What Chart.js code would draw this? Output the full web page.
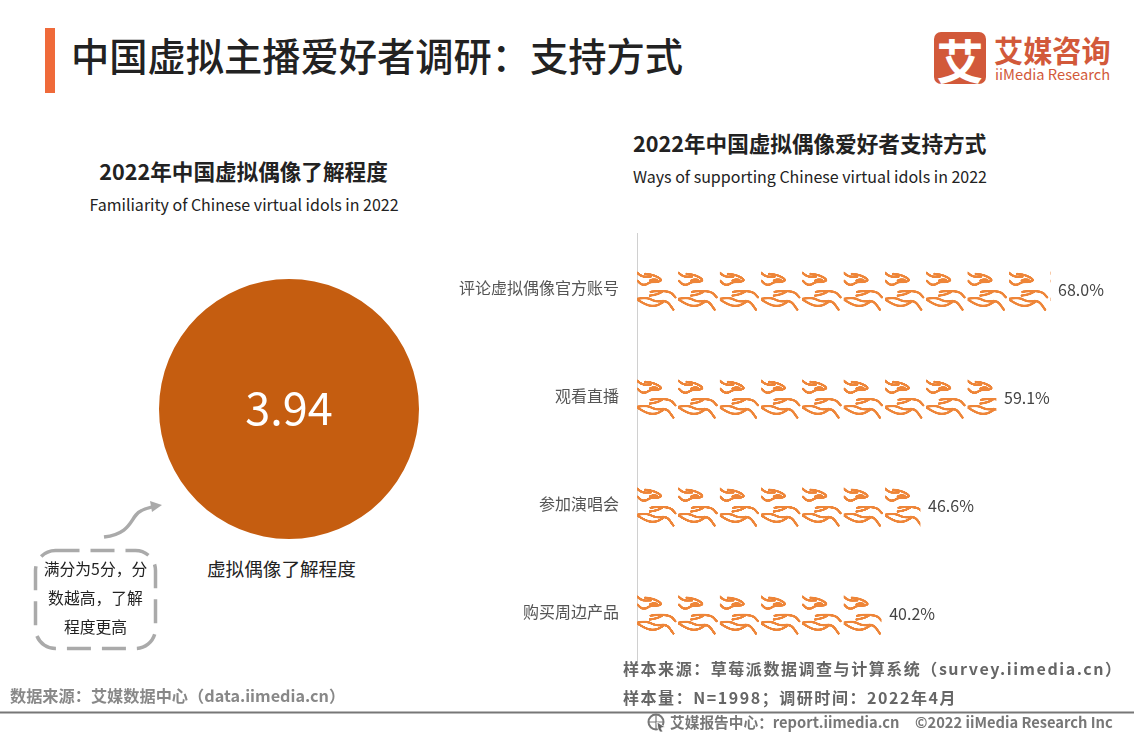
<!DOCTYPE html>
<html>
<head>
<meta charset="utf-8">
<script src="https://cdn.jsdelivr.net/npm/chart.js@4"></script>
<style>
  html, body { margin: 0; padding: 0; background: #fff; }
  #page { position: relative; width: 1134px; height: 737px; overflow: hidden; font-family: "Noto Sans CJK SC", sans-serif; }
  #page canvas { position: absolute; }
  .t { position: absolute; white-space: nowrap; line-height: 1; }
  .c { transform: translateX(-50%); text-align: center; }
</style>
</head>
<body>
<div id="page">
  <div style="position:absolute;left:45px;top:28px;width:10px;height:65px;background:#ef6a3a"></div>
  <div class="t" style="left:71px;top:36px;font-size:38.25px;font-weight:500;color:#222">中国虚拟主播爱好者调研：支持方式</div>

  <div style="position:absolute;left:934px;top:32px;width:52px;height:52px;border-radius:7px;background:#d2593a"></div>
  <div class="t" style="left:936px;top:35px;width:48px;text-align:center;font-size:47px;font-weight:700;color:#fff">艾</div>
  <div class="t" style="left:994px;top:35px;font-size:29.2px;font-weight:700;color:#d2593a">艾媒咨询</div>
  <div class="t" style="left:995px;top:67px;font-size:14.7px;color:#d2593a">iiMedia Research</div>

  <div class="t c" style="left:243.5px;top:160px;font-size:21.6px;font-weight:700;color:#222">2022年中国虚拟偶像了解程度</div>
  <div class="t c" style="left:244px;top:196px;font-size:16px;color:#222">Familiarity of Chinese virtual idols in 2022</div>
  <div class="t" style="left:633px;top:132px;font-size:21.6px;font-weight:700;color:#222">2022年中国虚拟偶像爱好者支持方式</div>
  <div class="t" style="left:633px;top:168px;font-size:16px;color:#222">Ways of supporting Chinese virtual idols in 2022</div>

  <canvas id="chartFamiliarity" width="280" height="280" style="left:149px;top:269px"></canvas>
  <canvas id="chartWays" width="694" height="471" style="left:440px;top:214px"></canvas>

  <div class="t" style="left:207px;top:559px;font-size:18.6px;color:#222">虚拟偶像了解程度</div>

  <svg style="position:absolute;left:0;top:0" width="1134" height="737">
    <rect x="35.5" y="550.5" width="120" height="98" rx="20" fill="none" stroke="#aaa" stroke-width="3.5" stroke-dasharray="24 11"/>
    <path d="M104 537 C128 534 130 522 136 515 C141 509 147 508 152 507" fill="none" stroke="#aaa" stroke-width="3.5"/>
    <path d="M150 501 L162 505 L152 512 Z" fill="#aaa"/>
    <line x1="0" y1="712.5" x2="1134" y2="712.5" stroke="#777" stroke-width="2"/>
    <circle cx="656" cy="722" r="7.5" fill="none" stroke="#777" stroke-width="2"/>
    <path d="M649 722 H663 M656 715 V729" stroke="#777" stroke-width="1.2"/>
    <path d="M657 722 L665 727 L661 728 L663 732 L660 732 L658 729 Z" fill="#666" stroke="#fff" stroke-width="0.8"/>
  </svg>

  <div class="t c" style="left:95.5px;top:561px;font-size:15.8px;color:#222">满分为5分，分</div>
  <div class="t c" style="left:95.5px;top:590px;font-size:15.8px;color:#222">数越高，了解</div>
  <div class="t c" style="left:95.5px;top:619px;font-size:15.8px;color:#222">程度更高</div>

  <div class="t" style="left:623px;top:660px;font-size:16px;font-weight:700;color:#666;letter-spacing:1.55px">样本来源：草莓派数据调查与计算系统（survey.iimedia.cn）</div>
  <div class="t" style="left:623px;top:689px;font-size:16px;font-weight:700;color:#666;letter-spacing:1.55px">样本量：N=1998；调研时间：2022年4月</div>
  <div class="t" style="left:10px;top:687px;font-size:16.2px;font-weight:700;color:#888">数据来源：艾媒数据中心（data.iimedia.cn）</div>
  <div class="t" style="left:670px;top:715px;font-size:14.7px;font-weight:700;color:#777">艾媒报告中心：report.iimedia.cn</div>
  <div class="t" style="left:915px;top:715px;font-size:14.7px;font-weight:700;color:#777">©2022 iiMedia Research Inc</div>
</div>

<script>
const familiarityLabels = ['虚拟偶像了解程度'];
const familiarityValues = [3.94];

const wayLabels = ['评论虚拟偶像官方账号', '观看直播', '参加演唱会', '购买周边产品'];
const wayValues = [68.0, 59.1, 46.6, 40.2];

const FONT = '"Noto Sans CJK SC", sans-serif';

// one tile of the hands icon, drawn big and scaled down by the pattern transform
function makeHandsTile() {
    const tile = document.createElement('canvas');
    tile.width = 124;
    tile.height = 323;
    const g = tile.getContext('2d');
    g.translate(-21, 80.5);
    g.strokeStyle = '#ee8538';
    g.lineCap = 'round';
    g.lineJoin = 'round';
    const strokes = [
        // upper hand
        [[22, 37], [34, 49], [62, 48]],
        [[46, 40], [70, 42], [97, 58], [84, 64], [60, 64], [48, 73], [34, 72], [23, 61]],
        [[60, 60], [68, 56], [80, 58]],
        // lower hand
        [[62, 94], [72, 91], [120, 92], [136, 110]],
        [[60, 105], [80, 102], [96, 94]],
        [[21, 115], [48, 109], [78, 124], [110, 119], [130, 147]],
        [[21, 116], [48, 134], [78, 137], [100, 124]]
    ];
    strokes.forEach(pts => {
        g.lineWidth = 7.5;
        g.beginPath();
        g.moveTo(pts[0][0], pts[0][1]);
        for (let i = 1; i < pts.length - 1; i++) {
            const mx = (pts[i][0] + pts[i + 1][0]) / 2;
            const my = (pts[i][1] + pts[i + 1][1]) / 2;
            g.quadraticCurveTo(pts[i][0], pts[i][1], mx, my);
        }
        const last = pts[pts.length - 1];
        g.lineTo(last[0], last[1]);
        g.stroke();
    });
    return tile;
}

const handsTile = makeHandsTile();
const handsPattern = handsTile.getContext('2d').createPattern(handsTile, 'repeat');

// keeps the tile lined up with the bars whatever the scales come out as
const alignPattern = {
    id: 'alignPattern',
    beforeDatasetsDraw(chart) {
        const x = chart.scales.x;
        const y = chart.scales.y;
        const rowH = y.getPixelForTick(1) - y.getPixelForTick(0);
        const tileW = x.getPixelForValue(6.8) - x.getPixelForValue(0);
        handsPattern.setTransform(new DOMMatrix()
            .translate(x.left, y.getPixelForTick(0) - rowH / 2)
            .scale(tileW / handsTile.width, rowH / handsTile.height));
    }
};

const valueLabels = {
    id: 'valueLabels',
    afterDatasetsDraw(chart) {
        const ctx = chart.ctx;
        ctx.save();
        ctx.font = '16px ' + FONT;
        ctx.fillStyle = '#444';
        ctx.textBaseline = 'middle';
        chart.getDatasetMeta(0).data.forEach((bar, i) => {
            ctx.fillText(wayValues[i].toFixed(1) + '%', bar.x + 8, bar.y + 2);
        });
        ctx.restore();
    }
};

const centerValue = {
    id: 'centerValue',
    afterDatasetsDraw(chart) {
        const ctx = chart.ctx;
        const arc = chart.getDatasetMeta(0).data[0];
        ctx.save();
        ctx.font = '45px ' + FONT;
        ctx.fillStyle = '#fff';
        ctx.textAlign = 'center';
        ctx.textBaseline = 'middle';
        ctx.fillText(familiarityValues[0].toFixed(2), arc.x, arc.y - 1);
        ctx.restore();
    }
};

new Chart(document.getElementById('chartFamiliarity'), {
    type: 'pie',
    data: {
        labels: familiarityLabels,
        datasets: [{
            data: familiarityValues,
            backgroundColor: '#c55d10',
            borderWidth: 0
        }]
    },
    options: {
        responsive: false,
        animation: false,
        layout: { padding: 10 },
        plugins: {
            legend: { display: false },
            tooltip: { enabled: false }
        }
    },
    plugins: [centerValue]
});

new Chart(document.getElementById('chartWays'), {
    type: 'bar',
    data: {
        labels: wayLabels,
        datasets: [{
            data: wayValues,
            backgroundColor: handsPattern,
            borderWidth: 0,
            barThickness: 56
        }]
    },
    options: {
        responsive: false,
        animation: false,
        indexAxis: 'y',
        layout: { padding: { top: 1, right: 11, bottom: 0 } },
        plugins: {
            legend: { display: false },
            tooltip: { enabled: false }
        },
        scales: {
            x: { display: false, min: 0, max: 80 },
            y: {
                afterFit: function (scale) { scale.width = 197; },
                border: { display: true, color: '#d0d0d0', width: 1 },
                grid: { display: false },
                ticks: {
                    padding: 10,
                    color: '#555',
                    font: { family: FONT, size: 16 }
                }
            }
        }
    },
    plugins: [alignPattern, valueLabels]
});
</script>
</body>
</html>
